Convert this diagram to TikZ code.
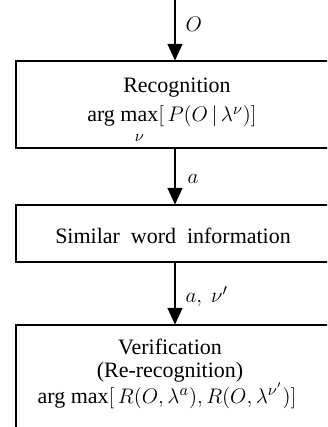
\documentclass[tikz,border=0pt]{standalone}
\usepackage{fontspec}
\setmainfont{Liberation Serif}
\usepackage{amsmath}
\usetikzlibrary{
    arrows.meta,
    positioning
}

\tikzset{
    stage/.style={draw, line width=0.6pt, inner sep=0pt, minimum width=63.6mm},
    flow/.style={-{Triangle[width=3mm, length=3.3mm]}, line width=0.6pt},
    txt/.style={inner sep=0pt, font=\fontsize{12.5}{15}\selectfont}
}

\begin{document}
\begin{tikzpicture}[x=0.2mm, y=-0.2mm]
                        \useasboundingbox (0, 0) rectangle (327, 427);
                        \clip (0, 0) rectangle (327, 427);
                        \coordinate (in) at (175, -5);
                        \node[stage, minimum height=17.4mm] (recog) at (175, 104.5) {};
                        \node[stage, minimum height=11.4mm] (simw) at (175, 233.5) {};
                        \node[stage, minimum height=22mm] (verif) at (175, 380) {};
                        \node[txt] (recogt) at (177, 88) {Recognition};
                        \node[txt, anchor=base] (recogm) at (172, 122) {arg $\max\limits_{\rule{0pt}{1.6ex}\nu}[\,P(O\,|\,\lambda^{\nu})]$};
                        \node[txt, anchor=base] (simwt) at (173, 244) {Similar\ \ word\ \ information};
                        \node[txt] (verift) at (170, 347) {Verification};
                        \node[txt] (verifr) at (170, 372) {(Re-recognition)};
                        \node[txt, anchor=base] (verifm) at (167, 403) {arg max$[\,R(O,\lambda^{a}),R(O,\lambda^{\nu'})]$};
                        \draw
                        (in) edge[flow] node[txt, right=2mm, pos=0.45] {$O$} (recog)
                        (recog) edge[flow] node[txt, right=2.4mm, pos=0.55] {$a$} (simw)
                        (simw) edge[flow] node[txt, right=2mm, pos=0.55] {$a,\ \nu'$} (verif);
                    \end{tikzpicture}
\end{document}
